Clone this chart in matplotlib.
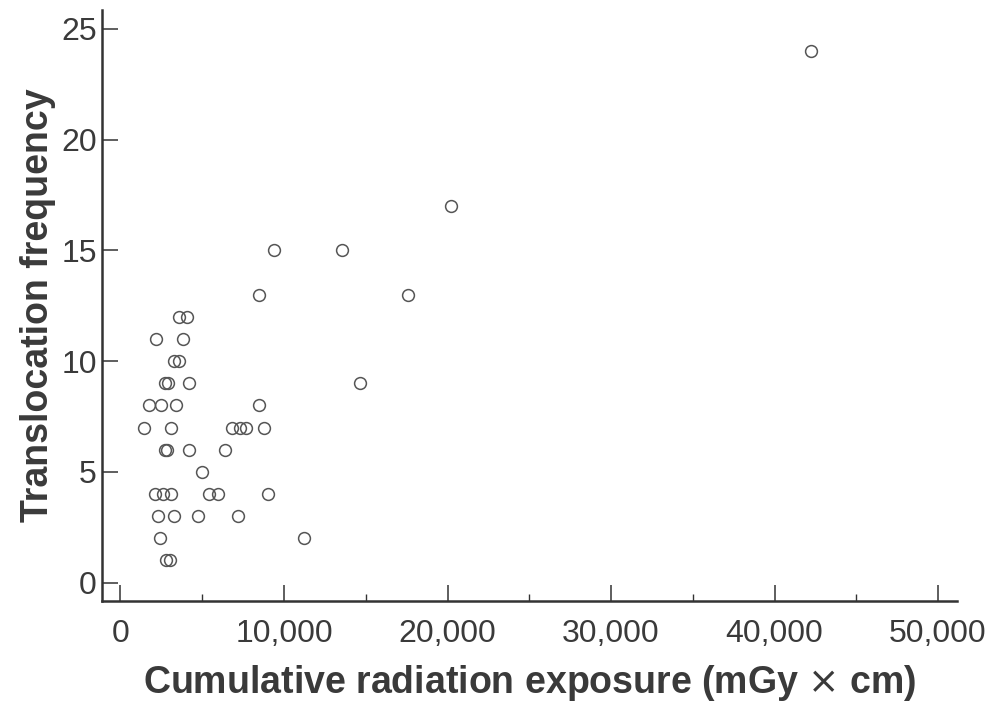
import matplotlib.pyplot as plt
from matplotlib.ticker import MultipleLocator, FuncFormatter

plt.rcParams['font.family'] = ['Liberation Sans', 'DejaVu Sans']

# exposure (mGy x cm) and translocation frequency
exposure = [
    42200, 20200, 9400, 13550, 8500, 17600,
    3600, 4050, 2200, 3800, 3250, 3600,
    2700, 2900, 4200, 14650,
    1750, 2500, 3400, 8500,
    1450, 3100, 6800, 7300, 7700, 8800,
    2750, 2850, 4200, 6400,
    5000,
    2100, 2600, 3100, 5400, 5950, 9000,
    2300, 3250, 4750, 7200,
    2400, 11250,
    2800, 3050,
]
frequency = [
    24, 17, 15, 15, 13, 13,
    12, 12, 11, 11, 10, 10,
    9, 9, 9, 9,
    8, 8, 8, 8,
    7, 7, 7, 7, 7, 7,
    6, 6, 6, 6,
    5,
    4, 4, 4, 4, 4, 4,
    3, 3, 3, 3,
    2, 2,
    1, 1,
]

fig = plt.figure(figsize=(9.95, 7.02), dpi=100)
ax = fig.add_axes([0.103, 0.1439, 0.859, 0.842])

ax.plot(exposure, frequency, linestyle='none', marker='o', markersize=8.5,
        markerfacecolor='none', markeredgecolor='#555555', markeredgewidth=1.1)

ax.set_xlim(-1100, 51170)
ax.set_ylim(-0.83, 25.86)

for side in ['top', 'right']:
    ax.spines[side].set_visible(False)
for side in ['left', 'bottom']:
    ax.spines[side].set_linewidth(1.8)
    ax.spines[side].set_color('#333333')

ax.xaxis.set_major_locator(MultipleLocator(10000))
ax.xaxis.set_minor_locator(MultipleLocator(5000))
ax.yaxis.set_major_locator(MultipleLocator(5))
ax.xaxis.set_major_formatter(FuncFormatter(lambda v, p: f'{int(v):,}'))

ax.tick_params(axis='both', which='major', direction='in', length=11.5, width=1.1,
               color='#333333', labelsize=23, labelcolor='#3a3a3a')
ax.tick_params(axis='x', which='minor', direction='in', length=5, width=1.0, color='#333333')
ax.tick_params(axis='x', which='major', pad=13)
ax.tick_params(axis='y', which='major', pad=4)

ax.set_xlabel('Cumulative radiation exposure (mGy $\\times$ cm)', fontsize=27,
              fontweight='bold', color='#3a3a3a', labelpad=10)
ax.set_ylabel('Translocation frequency', fontsize=27, fontweight='bold',
              color='#3a3a3a', labelpad=4)

fig.savefig('out.png', dpi=100)
